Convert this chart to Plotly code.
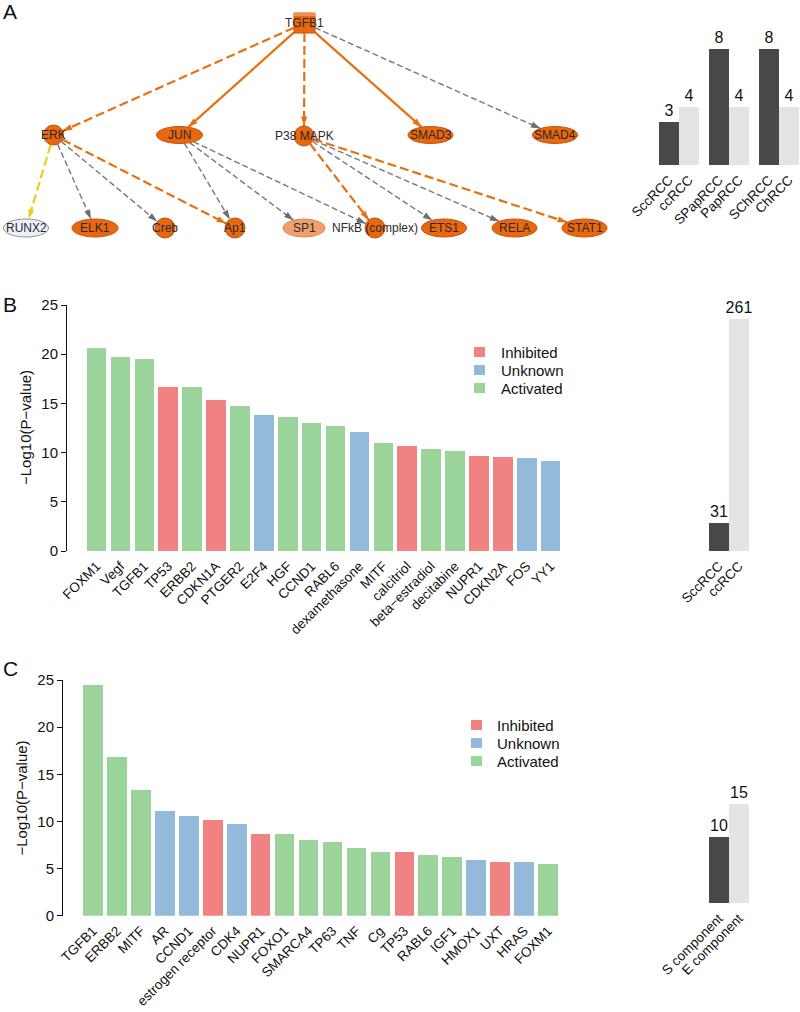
import math
import plotly.graph_objects as go

W, H = 800, 1012
FONT = "Liberation Sans, Arial, sans-serif"

# ---------------- DATA ----------------
# Panel A: regulatory network (nodes and directed edges)
net_nodes = ["TGFB1", "ERK", "JUN", "P38 MAPK", "SMAD3", "SMAD4",
             "RUNX2", "ELK1", "Creb", "Ap1", "SP1", "NFkB (complex)",
             "ETS1", "RELA", "STAT1"]
net_edges_src = ["TGFB1", "TGFB1", "TGFB1", "TGFB1", "TGFB1",
                 "ERK", "ERK", "ERK", "ERK",
                 "JUN", "JUN", "JUN",
                 "P38 MAPK", "P38 MAPK", "P38 MAPK", "P38 MAPK"]
net_edges_tgt = ["ERK", "JUN", "P38 MAPK", "SMAD3", "SMAD4",
                 "RUNX2", "ELK1", "Creb", "Ap1",
                 "Ap1", "SP1", "NFkB (complex)",
                 "NFkB (complex)", "ETS1", "RELA", "STAT1"]
net_edges_type = ["activation_pred", "activation", "activation_pred", "activation", "unknown",
                  "inconsistent", "unknown", "unknown", "activation_pred",
                  "unknown", "unknown", "unknown",
                  "activation_pred", "unknown", "unknown", "activation_pred"]

# Panel A: side bar chart
a_side_labels = ["SccRCC", "ccRCC", "SPapRCC", "PapRCC", "SChRCC", "ChRCC"]
a_side_values = [3, 4, 8, 4, 8, 4]

# Panel B
b_names = ["FOXM1", "Vegf", "TGFB1", "TP53", "ERBB2", "CDKN1A", "PTGER2", "E2F4",
           "HGF", "CCND1", "RABL6", "dexamethasone", "MITF", "calcitriol",
           "beta\u2212estradiol", "decitabine", "NUPR1", "CDKN2A", "FOS", "YY1"]
b_values = [20.66, 19.7, 19.55, 16.7, 16.65, 15.35, 14.7, 13.8, 13.6, 12.98,
            12.7, 12.06, 11.0, 10.67, 10.4, 10.16, 9.65, 9.58, 9.48, 9.15]
b_status = ["Activated", "Activated", "Activated", "Inhibited", "Activated", "Inhibited",
            "Activated", "Unknown", "Activated", "Activated", "Activated", "Unknown",
            "Activated", "Inhibited", "Activated", "Activated", "Inhibited", "Inhibited",
            "Unknown", "Unknown"]
b_side_labels = ["SccRCC", "ccRCC"]
b_side_values = [31, 261]

# Panel C
c_names = ["TGFB1", "ERBB2", "MITF", "AR", "CCND1", "estrogen receptor", "CDK4",
           "NUPR1", "FOXO1", "SMARCA4", "TP63", "TNF", "Cg", "TP53", "RABL6",
           "IGF1", "HMOX1", "UXT", "HRAS", "FOXM1"]
c_values = [24.5, 16.83, 13.3, 11.07, 10.54, 10.12, 9.69, 8.7, 8.63, 8.03,
            7.78, 7.21, 6.75, 6.75, 6.44, 6.23, 5.87, 5.7, 5.7, 5.48]
c_status = ["Activated", "Activated", "Activated", "Unknown", "Unknown", "Inhibited",
            "Unknown", "Inhibited", "Activated", "Activated", "Activated", "Activated",
            "Activated", "Inhibited", "Activated", "Activated", "Unknown", "Inhibited",
            "Unknown", "Activated"]
c_side_labels = ["S component", "E component"]
c_side_values = [10, 15]

legend_order = ["Inhibited", "Unknown", "Activated"]

# ---------------- STYLE ----------------
status_color = {"Inhibited": "#F08282", "Unknown": "#93BADB", "Activated": "#9BD49B"}
pair_colors = ["#484848", "#E4E4E4"]
ORANGE = "#E8670F"
ORANGE_LINE = "#C4540A"
edge_style = {
    "activation": dict(color="#E8700F", width=2.2, dash="solid"),
    "activation_pred": dict(color="#E8700F", width=2.2, dash="9px,4px"),
    "unknown": dict(color="#787878", width=1.4, dash="6px,3px"),
    "inconsistent": dict(color="#E8D01A", width=2.2, dash="9px,4px"),
}
# node layout in pixel space of the network panel: cx, cy, rx, ry, shape, fill, line
node_layout = {
    "TGFB1": (304.5, 23, 10.5, 10, "rect", ORANGE, ORANGE_LINE),
    "ERK": (53.5, 135, 10, 10, "ellipse", ORANGE, ORANGE_LINE),
    "JUN": (179.5, 135, 23, 8.5, "ellipse", ORANGE, ORANGE_LINE),
    "P38 MAPK": (304, 136, 10, 10, "ellipse", ORANGE, ORANGE_LINE),
    "SMAD3": (430.5, 135, 22.5, 8.5, "ellipse", ORANGE, ORANGE_LINE),
    "SMAD4": (555, 135, 22.5, 8.5, "ellipse", ORANGE, ORANGE_LINE),
    "RUNX2": (26, 228, 22.5, 9, "ellipse", "#EAF1FA", "#8C9196"),
    "ELK1": (95, 228, 23, 9, "ellipse", ORANGE, ORANGE_LINE),
    "Creb": (165, 228, 10, 10, "ellipse", ORANGE, ORANGE_LINE),
    "Ap1": (235, 228, 10, 10, "ellipse", ORANGE, ORANGE_LINE),
    "SP1": (304, 228, 21, 9, "ellipse", "#F2A06B", "#D98A55"),
    "NFkB (complex)": (375, 228, 10, 10, "ellipse", ORANGE, ORANGE_LINE),
    "ETS1": (444, 228, 22.5, 9, "ellipse", ORANGE, ORANGE_LINE),
    "RELA": (514.5, 228, 22.5, 9, "ellipse", ORANGE, ORANGE_LINE),
    "STAT1": (584.5, 228, 22.5, 9, "ellipse", ORANGE, ORANGE_LINE),
}


def dx(a, b):
    return [a / W, b / W]


def dy(top, bottom):
    return [1 - bottom / H, 1 - top / H]


def boundary(name, ux, uy):
    cx, cy, rx, ry, shape, _, _ = node_layout[name]
    if shape == "rect":
        t = min(rx / abs(ux) if ux else 1e9, ry / abs(uy) if uy else 1e9)
    else:
        t = 1.0 / math.sqrt((ux / rx) ** 2 + (uy / ry) ** 2)
    return cx + ux * t, cy + uy * t


fig = go.Figure()
shapes = []
annotations = []

# ---------------- Panel A network ----------------
arrow_x, arrow_y, arrow_ang, arrow_col = [], [], [], []
for s, t, kind in zip(net_edges_src, net_edges_tgt, net_edges_type):
    sx, sy = node_layout[s][:2]
    tx, ty = node_layout[t][:2]
    L = math.hypot(tx - sx, ty - sy)
    ux, uy = (tx - sx) / L, (ty - sy) / L
    x0, y0 = boundary(s, ux, uy)
    x1, y1 = boundary(t, -ux, -uy)
    st = edge_style[kind]
    fig.add_trace(go.Scatter(x=[x0, x1], y=[y0, y1], mode="lines",
                             line=dict(color=st["color"], width=st["width"], dash=st["dash"]),
                             hoverinfo="skip", showlegend=False, xaxis="x", yaxis="y"))
    arrow_x.append(x1)
    arrow_y.append(y1)
    arrow_ang.append(math.degrees(math.atan2(ux, -uy)))
    arrow_col.append(st["color"] if kind != "unknown" else "#6E6E6E")

fig.add_trace(go.Scatter(x=arrow_x, y=arrow_y, mode="markers",
                         marker=dict(symbol="arrow", size=10, angle=arrow_ang,
                                     color=arrow_col, line=dict(width=0)),
                         hoverinfo="skip", showlegend=False, xaxis="x", yaxis="y"))

for name in net_nodes:
    cx, cy, rx, ry, shape, fill, line = node_layout[name]
    shapes.append(dict(type="rect" if shape == "rect" else "circle",
                       xref="x", yref="y", x0=cx - rx, x1=cx + rx, y0=cy - ry, y1=cy + ry,
                       fillcolor=fill, line=dict(color=line, width=1), layer="above"))
    if shape == "rect":
        shapes.append(dict(type="rect", xref="x", yref="y", x0=cx - rx, x1=cx + rx,
                           y0=cy - ry, y1=cy - ry + 3, fillcolor="#F09050",
                           line=dict(width=0), layer="above"))

# node labels drawn as annotations so they sit above the node shapes
for name in net_nodes:
    cx, cy = node_layout[name][:2]
    annotations.append(dict(x=cx, y=cy, xref="x", yref="y", text=name, showarrow=False,
                            font=dict(family=FONT, size=12, color="#2A2A2A"),
                            xanchor="center", yanchor="middle"))

# ---------------- Panel A side bars ----------------
a_x = [(i // 2) * 2.5 + (i % 2) for i in range(len(a_side_values))]
bar_text = dict(textposition="outside", constraintext="none", cliponaxis=False,
                textfont=dict(family=FONT, size=16, color="#111"))
fig.add_trace(go.Bar(x=a_x, y=a_side_values, width=1.0,
                     marker=dict(color=[pair_colors[i % 2] for i in range(len(a_side_values))],
                                 line=dict(width=0)),
                     text=[str(v) for v in a_side_values], **bar_text,
                     showlegend=False, xaxis="x2", yaxis="y2"))

# ---------------- Panel B ----------------
fig.add_trace(go.Bar(x=list(range(len(b_values))), y=b_values, width=0.82,
                     marker=dict(color=[status_color[s] for s in b_status], line=dict(width=0)),
                     showlegend=False, xaxis="x3", yaxis="y3"))
fig.add_trace(go.Bar(x=[0, 1], y=b_side_values, width=1.0,
                     marker=dict(color=pair_colors, line=dict(width=0)),
                     text=[str(v) for v in b_side_values], **bar_text,
                     showlegend=False, xaxis="x4", yaxis="y4"))

# ---------------- Panel C ----------------
fig.add_trace(go.Bar(x=list(range(len(c_values))), y=c_values, width=0.82,
                     marker=dict(color=[status_color[s] for s in c_status], line=dict(width=0)),
                     showlegend=False, xaxis="x5", yaxis="y5"))
fig.add_trace(go.Bar(x=[0, 1], y=c_side_values, width=1.0,
                     marker=dict(color=pair_colors, line=dict(width=0)),
                     text=[str(v) for v in c_side_values], **bar_text,
                     showlegend=False, xaxis="x6", yaxis="y6"))

# ---------------- Legends (B and C) ----------------
for (sq_x, txt_x, y_start) in [(474, 499, 352), (471, 495, 725)]:
    for i, s in enumerate(legend_order):
        yc = y_start + i * 18
        shapes.append(dict(type="rect", xref="paper", yref="paper",
                           x0=sq_x / W, x1=(sq_x + 11) / W,
                           y0=1 - (yc + 5) / H, y1=1 - (yc - 5) / H,
                           fillcolor=status_color[s], line=dict(width=0)))
        annotations.append(dict(x=txt_x / W, y=1 - yc / H, xref="paper", yref="paper",
                                text=s, showarrow=False, xanchor="left", yanchor="middle",
                                font=dict(family=FONT, size=15, color="#111")))

# ---------------- Panel letters and axis titles ----------------
for letter, yc in [("A", 11), ("B", 304), ("C", 668)]:
    annotations.append(dict(x=0.5 / W, y=1 - yc / H, xref="paper", yref="paper", text=letter,
                            showarrow=False, xanchor="left", yanchor="middle",
                            font=dict(family=FONT, size=21, color="#111")))
for xc, yc in [(25, 428), (20.5, 798)]:
    annotations.append(dict(x=xc / W, y=1 - yc / H, xref="paper", yref="paper",
                            text="\u2212Log10(P\u2212value)", textangle=-90, showarrow=False,
                            xanchor="center", yanchor="middle",
                            font=dict(family=FONT, size=15, color="#111")))

hidden = dict(visible=False, showgrid=False, zeroline=False, automargin=False)
tick_x = dict(showline=False, showgrid=False, zeroline=False, ticks="outside", ticklen=1,
              tickcolor="rgba(0,0,0,0)", tickangle=-45, automargin=False,
              tickfont=dict(family=FONT, size=13.5, color="#111"))
val_y = dict(showline=True, linecolor="#111", linewidth=1, showgrid=False, zeroline=False,
             ticks="outside", ticklen=5, tickwidth=1, tickcolor="#111", automargin=False,
             tickvals=[0, 5, 10, 15, 20, 25], tickfont=dict(family=FONT, size=15, color="#111"))

fig.update_layout(
    template="none",
    width=W, height=H, margin=dict(l=0, r=0, t=0, b=0, pad=0, autoexpand=False),
    paper_bgcolor="white", plot_bgcolor="white", showlegend=False,
    font=dict(family=FONT),
    xaxis=dict(domain=dx(0, 640), range=[0, 640], **hidden),
    yaxis=dict(domain=dy(0, 245), range=[245, 0], **hidden),
    xaxis2=dict(domain=dx(649, 800), range=[-1, 6.55], anchor="y2",
                tickvals=a_x, ticktext=a_side_labels, **tick_x),
    yaxis2=dict(domain=dy(40, 165), range=[0, 125 / 14.5], anchor="x2", **hidden),
    xaxis3=dict(domain=dx(67, 575), range=[(67 - 96.5) / 23.9, (575 - 96.5) / 23.9],
                anchor="y3", tickvals=list(range(len(b_names))), ticktext=b_names, **tick_x),
    yaxis3=dict(domain=dy(305, 551), range=[0, 25], anchor="x3", **val_y),
    xaxis4=dict(domain=dx(699, 759), range=[-1, 2], anchor="y4",
                tickvals=[0, 1], ticktext=b_side_labels, **tick_x),
    yaxis4=dict(domain=dy(305, 551), range=[0, 261 * 246 / 232], anchor="x4", **hidden),
    xaxis5=dict(domain=dx(63, 575), range=[(63 - 93) / 23.95, (575 - 93) / 23.95],
                anchor="y5", tickvals=list(range(len(c_names))), ticktext=c_names, **tick_x),
    yaxis5=dict(domain=dy(680, 915.7), range=[0, 25], anchor="x5", **val_y),
    xaxis6=dict(domain=dx(699, 759), range=[-1, 2], anchor="y6",
                tickvals=[0, 1], ticktext=c_side_labels, **tick_x),
    yaxis6=dict(domain=dy(680, 903.3), range=[0, (903.3 - 680) / 6.62], anchor="x6", **hidden),
    shapes=shapes, annotations=annotations, bargap=0,
)

fig.write_html("out.html", config={"displayModeBar": False},
               post_script="document.body.style.margin='0';document.body.style.padding='0';"
                           "document.documentElement.style.overflow='hidden';")
